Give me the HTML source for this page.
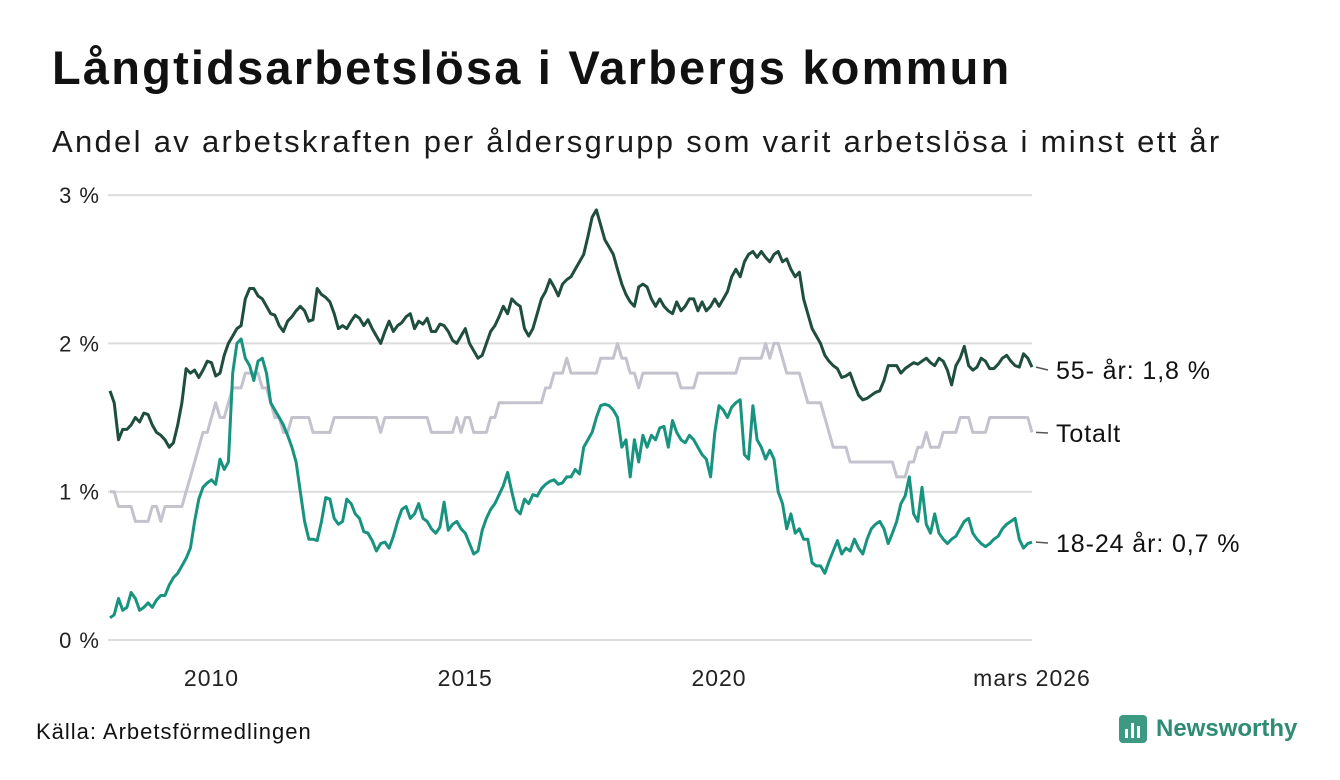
<!DOCTYPE html>
<html><head><meta charset="utf-8"><style>
body{margin:0;width:1340px;height:780px;background:#fff;font-family:"Liberation Sans","DejaVu Sans",sans-serif;overflow:hidden;position:relative;color:#111}
#title{position:absolute;left:52px;top:40px;font-size:47px;font-weight:bold;letter-spacing:2.2px;white-space:nowrap}
#sub{position:absolute;left:52px;top:124px;font-size:31px;letter-spacing:2.3px;color:#1a1a1a;white-space:nowrap}
#src{position:absolute;left:36px;top:719px;font-size:22px;letter-spacing:1px}
#logo{position:absolute;left:1118px;top:714px;font-size:24px;font-weight:bold;color:#2e8b74;display:flex;align-items:center;gap:8px}
svg{position:absolute;left:0;top:0}
</style></head><body>
<div id="title">Långtidsarbetslösa i Varbergs kommun</div>
<div id="sub">Andel av arbetskraften per åldersgrupp som varit arbetslösa i minst ett år</div>
<div id="src">Källa: Arbetsförmedlingen</div>
<div id="logo"><svg style="position:static" width="30" height="30" viewBox="0 0 30 30"><rect x="1" y="1" width="28" height="28" rx="4" fill="#3c9a82"/><rect x="7" y="15" width="3" height="9" fill="#fff"/><rect x="13" y="9" width="3" height="15" fill="#fff"/><rect x="19" y="12" width="3" height="12" fill="#fff"/></svg>Newsworthy</div>
<svg id="chart" width="1340" height="780"></svg>
<script>
const yTicks=[0,1,2,3];
const yTickLabels=["0 %","1 %","2 %","3 %"];
const xTickIdx=[24,84,144,218];
const xTickLabels=["2010","2015","2020","mars 2026"];
const totalt=[1.0,1.0,0.9,0.9,0.9,0.9,0.8,0.8,0.8,0.8,0.9,0.9,
0.8,0.9,0.9,0.9,0.9,0.9,1.0,1.1,1.2,1.3,1.4,1.4,
1.5,1.6,1.5,1.5,1.6,1.7,1.7,1.7,1.8,1.8,1.8,1.8,
1.7,1.7,1.6,1.5,1.5,1.4,1.4,1.5,1.5,1.5,1.5,1.5,
1.4,1.4,1.4,1.4,1.4,1.5,1.5,1.5,1.5,1.5,1.5,1.5,
1.5,1.5,1.5,1.5,1.4,1.5,1.5,1.5,1.5,1.5,1.5,1.5,
1.5,1.5,1.5,1.5,1.4,1.4,1.4,1.4,1.4,1.4,1.5,1.4,
1.5,1.5,1.4,1.4,1.4,1.4,1.5,1.5,1.6,1.6,1.6,1.6,
1.6,1.6,1.6,1.6,1.6,1.6,1.6,1.7,1.7,1.8,1.8,1.8,
1.9,1.8,1.8,1.8,1.8,1.8,1.8,1.8,1.9,1.9,1.9,1.9,
2.0,1.9,1.9,1.8,1.8,1.7,1.8,1.8,1.8,1.8,1.8,1.8,
1.8,1.8,1.8,1.7,1.7,1.7,1.7,1.8,1.8,1.8,1.8,1.8,
1.8,1.8,1.8,1.8,1.8,1.9,1.9,1.9,1.9,1.9,1.9,2.0,
1.9,2.0,2.0,1.9,1.8,1.8,1.8,1.8,1.7,1.6,1.6,1.6,
1.6,1.5,1.4,1.3,1.3,1.3,1.3,1.2,1.2,1.2,1.2,1.2,
1.2,1.2,1.2,1.2,1.2,1.2,1.1,1.1,1.1,1.2,1.2,1.3,
1.3,1.4,1.3,1.3,1.3,1.4,1.4,1.4,1.4,1.5,1.5,1.5,
1.4,1.4,1.4,1.4,1.5,1.5,1.5,1.5,1.5,1.5,1.5,1.5,
1.5,1.5,1.4];
const age55=[1.68,1.6,1.35,1.42,1.42,1.45,1.5,1.47,1.53,1.52,1.45,1.4,
1.38,1.35,1.3,1.33,1.45,1.6,1.83,1.8,1.82,1.77,1.82,1.88,
1.87,1.78,1.8,1.92,2.0,2.05,2.1,2.12,2.3,2.37,2.37,2.32,
2.3,2.25,2.2,2.19,2.12,2.08,2.15,2.18,2.22,2.25,2.22,2.15,
2.16,2.37,2.33,2.31,2.28,2.2,2.1,2.12,2.1,2.15,2.19,2.17,
2.12,2.16,2.1,2.05,2.0,2.08,2.15,2.08,2.12,2.14,2.18,2.2,
2.1,2.15,2.13,2.17,2.08,2.08,2.13,2.12,2.08,2.02,2.0,2.05,
2.1,2.0,1.95,1.9,1.92,2.0,2.08,2.12,2.18,2.25,2.2,2.3,
2.27,2.25,2.1,2.05,2.1,2.2,2.3,2.35,2.43,2.38,2.32,2.4,
2.43,2.45,2.5,2.55,2.6,2.72,2.85,2.9,2.8,2.7,2.65,2.6,
2.5,2.4,2.33,2.28,2.25,2.38,2.4,2.38,2.3,2.25,2.3,2.25,
2.22,2.2,2.28,2.22,2.25,2.3,2.3,2.22,2.28,2.22,2.25,2.3,
2.25,2.3,2.35,2.45,2.5,2.45,2.55,2.6,2.62,2.58,2.62,2.58,
2.55,2.6,2.62,2.55,2.57,2.5,2.45,2.48,2.3,2.2,2.1,2.05,
2.0,1.92,1.88,1.85,1.83,1.77,1.78,1.8,1.72,1.65,1.62,1.63,
1.65,1.67,1.68,1.75,1.85,1.85,1.85,1.8,1.83,1.85,1.87,1.86,
1.88,1.9,1.87,1.85,1.9,1.88,1.82,1.72,1.85,1.9,1.98,1.85,
1.82,1.84,1.9,1.88,1.83,1.83,1.86,1.9,1.92,1.88,1.85,1.84,
1.93,1.9,1.84];
const age1824=[0.15,0.17,0.28,0.2,0.22,0.32,0.28,0.2,0.22,0.25,0.22,0.27,
0.3,0.3,0.37,0.42,0.45,0.5,0.55,0.62,0.8,0.95,1.03,1.06,
1.08,1.05,1.22,1.15,1.2,1.8,2.0,2.03,1.9,1.85,1.75,1.88,
1.9,1.8,1.6,1.55,1.5,1.45,1.38,1.3,1.2,1.0,0.8,0.68,
0.68,0.67,0.8,0.96,0.95,0.82,0.78,0.8,0.95,0.92,0.85,0.82,
0.73,0.72,0.67,0.6,0.65,0.66,0.62,0.7,0.8,0.88,0.9,0.82,
0.85,0.92,0.82,0.8,0.75,0.72,0.76,0.93,0.74,0.78,0.8,0.75,
0.72,0.65,0.58,0.6,0.74,0.82,0.88,0.92,0.98,1.04,1.13,1.0,
0.88,0.85,0.95,0.92,0.98,0.97,1.02,1.05,1.07,1.08,1.05,1.06,
1.1,1.1,1.15,1.12,1.3,1.35,1.4,1.5,1.58,1.59,1.58,1.55,
1.5,1.3,1.35,1.1,1.35,1.2,1.38,1.3,1.38,1.35,1.43,1.44,
1.3,1.48,1.4,1.35,1.33,1.38,1.35,1.3,1.25,1.22,1.1,1.4,
1.58,1.55,1.5,1.57,1.6,1.62,1.25,1.22,1.58,1.35,1.3,1.22,
1.28,1.22,1.0,0.92,0.75,0.85,0.72,0.75,0.68,0.68,0.52,0.5,
0.5,0.45,0.53,0.6,0.67,0.58,0.62,0.6,0.68,0.62,0.58,0.68,
0.75,0.78,0.8,0.75,0.65,0.72,0.8,0.92,0.97,1.1,0.85,0.8,
1.03,0.78,0.72,0.85,0.72,0.68,0.65,0.68,0.7,0.75,0.8,0.82,
0.72,0.68,0.65,0.63,0.65,0.68,0.7,0.75,0.78,0.8,0.82,0.68,
0.62,0.65,0.66];
const seriesLabels=["55- år: 1,8 %","Totalt","18-24 år: 0,7 %"];

const NS="http://www.w3.org/2000/svg";
const svg=document.getElementById('chart');
const X0=110,X1=1032,Y0=640,YPER=148.3;
const N=totalt.length;
function xs(i){return X0+(X1-X0)*i/(N-1);}
function ys(v){return Y0-v*YPER;}
function mk(t,a){const e=document.createElementNS(NS,t);for(const k in a)e.setAttribute(k,a[k]);svg.appendChild(e);return e;}
yTicks.forEach((v,k)=>{
  const l=mk('line',{x1:X0-2,x2:X1,y1:ys(v),y2:ys(v),stroke:'#dcdcdc','stroke-width':2});
  
  
  const t=mk('text',{x:100,y:ys(v)+8,'text-anchor':'end','font-size':22,'letter-spacing':1,fill:'#222'});
  t.textContent=yTickLabels[k];
  
  
});
xTickIdx.forEach((i,k)=>{
  const t=mk('text',{x:k==3?1032:xs(i),y:686,'text-anchor':'middle','font-size':23,'letter-spacing':1,fill:'#222'});
  t.textContent=xTickLabels[k];
  
  
});
function line(arr,color,name){
  const d=arr.map((v,i)=>(i?'L':'M')+xs(i).toFixed(1)+','+ys(v).toFixed(1)).join('');
  const p=mk('path',{d:d,fill:'none',stroke:color,'stroke-width':3,'stroke-linejoin':'round'});
  
  
}
line(totalt,'#c4c2cc','line-totalt');
line(age55,'#1f4d3e','line-55');
line(age1824,'#18937f','line-18-24');
const labY=[370,433,543];
const labArr=[age55,totalt,age1824];
labY.forEach((y,k)=>{
  const last=labArr[k][N-1];
  const c=mk('line',{x1:1036,y1:ys(last),x2:1048,y2:y,stroke:'#555','stroke-width':1.5});
  
  
  const t=mk('text',{x:1056,y:y+9,'font-size':25,'letter-spacing':0.9,fill:'#111'});
  t.textContent=seriesLabels[k];
  
  
});
</script>
</body></html>
